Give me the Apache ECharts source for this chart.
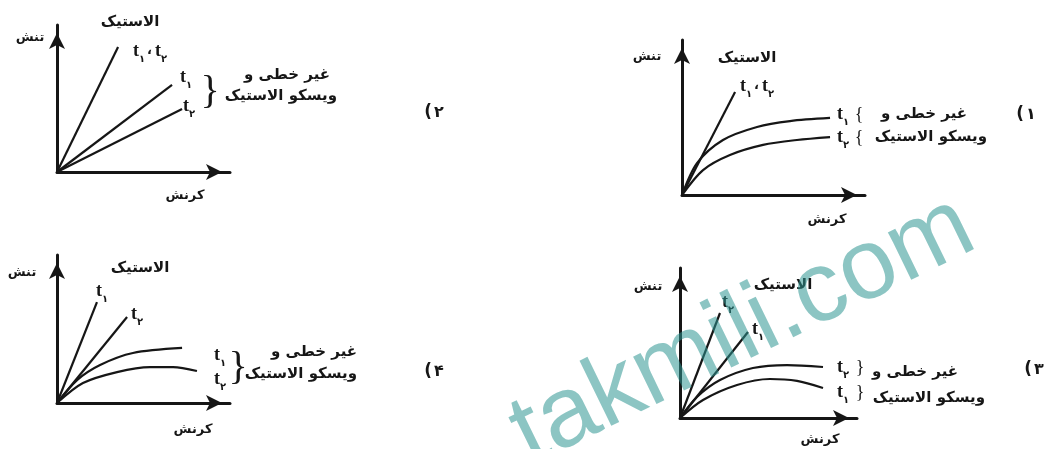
<!DOCTYPE html>
<html dir="ltr">
<head>
<meta charset="utf-8">
<script src="https://cdn.jsdelivr.net/npm/echarts@6.0.0/dist/echarts.min.js"></script>
<style>
  html, body { margin: 0; padding: 0; background: #fff; }
  #chart { width: 1046px; height: 449px; direction: ltr; }
</style>
</head>
<body>
<div id="chart"></div>
<script>
// strain (x) / stress (y) readings, 0..100 = length of each arrow axis
// panel 1 (top right)
var p1Elastic = [[0, 0], [29, 66.5]];
var p1CurveT1 = [[0, 0], [8.2, 20.6], [22.4, 35.5], [41, 43.9], [59, 47.7], [80.9, 49.7]];
var p1CurveT2 = [[0, 0], [11.5, 16.1], [26.2, 25.8], [44.3, 32.3], [62.8, 35.5], [80.9, 37.4]];
// panel 2 (top left)
var p2Elastic = [[0, 0], [35.3, 85]];
var p2LineT1 = [[0, 0], [66.5, 59.2]];
var p2LineT2 = [[0, 0], [72.3, 42.9]];
// panel 3 (bottom right)
var p3ElasticT2 = [[0, 0], [22.6, 70]];
var p3ElasticT1 = [[0, 0], [38.4, 57.3]];
var p3CurveT2 = [[0, 0], [9.6, 14], [22.6, 25.3], [41.2, 33.3], [60.5, 35.3], [80.8, 34]];
var p3CurveT1 = [[0, 0], [13, 12], [32.2, 22], [50.8, 26], [66.1, 24.7], [80.8, 20]];
// panel 4 (bottom left)
var p4ElasticT1 = [[0, 0], [23.1, 68.2]];
var p4ElasticT2 = [[0, 0], [40.5, 58.1]];
var p4CurveT1 = [[0, 0], [11.6, 15.5], [24.9, 25.7], [43.9, 33.8], [72.3, 37.2]];
var p4CurveT2 = [[0, 0], [15, 13.5], [34.7, 20.9], [53.8, 24.3], [67.1, 24.3], [80.9, 21.6]];

var axisName = { stress: 'تنش', strain: 'کرنش' };
var groupName = { elastic: 'الاستیک', nonlin: 'غیر خطی و', visco: 'ویسکو الاستیک' };
var optionDigits = ['۱', '۲', '۳', '۴'];

var ink = '#161616';
var faFont = '"DejaVu Sans", "Noto Sans", sans-serif';

var myChart = echarts.init(document.getElementById('chart'), null, { renderer: 'canvas' });

var grids = [
  { left: 682, top: 40, width: 183, height: 155 },
  { left: 57, top: 25, width: 173, height: 147 },
  { left: 680, top: 268, width: 177, height: 150 },
  { left: 57, top: 255, width: 173, height: 148 }
];

function makeAxis(i) {
  return {
    type: 'value', gridIndex: i, min: 0, max: 100,
    axisLine: {
      show: true, onZero: false,
      symbol: ['none', 'arrow'], symbolSize: [12, 16], symbolOffset: [0, -8],
      lineStyle: { color: ink, width: 3 }
    },
    axisTick: { show: false }, axisLabel: { show: false }, splitLine: { show: false }
  };
}

function line(i, data, smooth) {
  return {
    type: 'line', xAxisIndex: i, yAxisIndex: i, data: data,
    smooth: smooth ? 0.3 : false, showSymbol: false, silent: true,
    lineStyle: { color: ink, width: 2.2 }
  };
}

// text helpers
function fa(x, y, str, size, align) {
  return {
    type: 'text', x: x, y: y, z: 10,
    style: { text: str, font: 'bold ' + (size || 13) + 'px ' + faFont, fill: ink,
             align: align || 'center', verticalAlign: 'middle' }
  };
}
var tRich = {
  t: { fontSize: 18, fontWeight: 'bold', fontFamily: 'Liberation Serif', color: ink,
       lineHeight: 20, verticalAlign: 'middle' },
  s: { fontSize: 10, fontWeight: 'bold', fontFamily: 'DejaVu Sans', color: ink,
       lineHeight: 26, verticalAlign: 'bottom' },
  c: { fontSize: 13, fontWeight: 'bold', fontFamily: 'DejaVu Sans', color: ink,
       lineHeight: 20, verticalAlign: 'middle', padding: [0, 3, 0, 2] }
};
function tLabel(x, y, str) {
  return {
    type: 'text', x: x, y: y, z: 10,
    style: { text: str, rich: tRich, align: 'center', verticalAlign: 'middle', fill: ink }
  };
}
function brace(x, y, ch, size) {
  return {
    type: 'text', x: x, y: y, z: 10,
    style: { text: ch, font: (size || 18) + 'px "Liberation Serif", serif', fill: ink,
             align: 'center', verticalAlign: 'middle' }
  };
}
// option number such as "(۱": paren and digit drawn separately, paren wrapped in LRM marks
function optNum(x, y, digit) {
  return [
    { type: 'text', x: x - 5, y: y, z: 10,
      style: { text: '\u200E(\u200E', font: 'bold 17px ' + faFont, fill: ink, align: 'right', verticalAlign: 'middle' } },
    { type: 'text', x: x - 3, y: y, z: 10,
      style: { text: digit, font: 'bold 16px ' + faFont, fill: ink, align: 'left', verticalAlign: 'middle' } }
  ];
}

var T1 = '{t|t}{s|۱}', T2 = '{t|t}{s|۲}', T12 = '{t|t}{s|۱}{c|،}{t|t}{s|۲}';

var labels = [].concat(
  // panel 1
  [fa(647, 57, axisName.stress), fa(747, 58, groupName.elastic, 15), tLabel(757, 86, T12),
   tLabel(843, 114, T1), tLabel(843, 137, T2), brace(859, 115, '{'), brace(859, 138, '{'),
   fa(967, 114, groupName.nonlin, 15, 'right'), fa(987, 137, groupName.visco, 15, 'right'),
   fa(827, 220, axisName.strain)],
  optNum(1029, 115, optionDigits[0]),
  // panel 2
  [fa(30, 38, axisName.stress), fa(130, 22, groupName.elastic, 15), tLabel(150, 51, T12),
   tLabel(186, 77, T1), tLabel(189, 106, T2), brace(210, 92, '}', 40),
   fa(330, 75, groupName.nonlin, 15, 'right'), fa(337, 96, groupName.visco, 15, 'right'),
   fa(185, 196, axisName.strain)],
  optNum(437, 113, optionDigits[1]),
  // panel 3
  [fa(648, 287, axisName.stress), fa(783, 285, groupName.elastic, 15),
   tLabel(728, 302, T2), tLabel(758, 329, T1),
   tLabel(843, 367, T2), tLabel(843, 392, T1), brace(860, 368, '}'), brace(860, 393, '}'),
   fa(958, 372, groupName.nonlin, 15, 'right'), fa(985, 398, groupName.visco, 15, 'right'),
   fa(820, 440, axisName.strain)],
  optNum(1037, 370, optionDigits[2]),
  // panel 4
  [fa(22, 273, axisName.stress), fa(140, 268, groupName.elastic, 15),
   tLabel(102, 291, T1), tLabel(137, 314, T2),
   tLabel(220, 355, T1), tLabel(220, 379, T2), brace(238, 368, '}', 40),
   fa(357, 352, groupName.nonlin, 15, 'right'), fa(357, 374, groupName.visco, 15, 'right'),
   fa(193, 430, axisName.strain)],
  optNum(437, 372, optionDigits[3]),
  // watermark
  [{
    type: 'text', x: 743, y: 331, rotation: 26 * Math.PI / 180, z: 20,
    style: { text: 'takmili.com', font: '100px "Liberation Sans", Arial, sans-serif',
             fill: 'rgba(45,150,145,0.55)', align: 'center', verticalAlign: 'middle' }
  }]
);

var option = {
  backgroundColor: '#fff',
  animation: false,
  grid: grids,
  xAxis: [makeAxis(0), makeAxis(1), makeAxis(2), makeAxis(3)],
  yAxis: [makeAxis(0), makeAxis(1), makeAxis(2), makeAxis(3)],
  series: [
    line(0, p1Elastic), line(0, p1CurveT1, true), line(0, p1CurveT2, true),
    line(1, p2Elastic), line(1, p2LineT1), line(1, p2LineT2),
    line(2, p3ElasticT2), line(2, p3ElasticT1), line(2, p3CurveT2, true), line(2, p3CurveT1, true),
    line(3, p4ElasticT1), line(3, p4ElasticT2), line(3, p4CurveT1, true), line(3, p4CurveT2, true)
  ],
  graphic: labels
};

myChart.setOption(option);
</script>
</body>
</html>
